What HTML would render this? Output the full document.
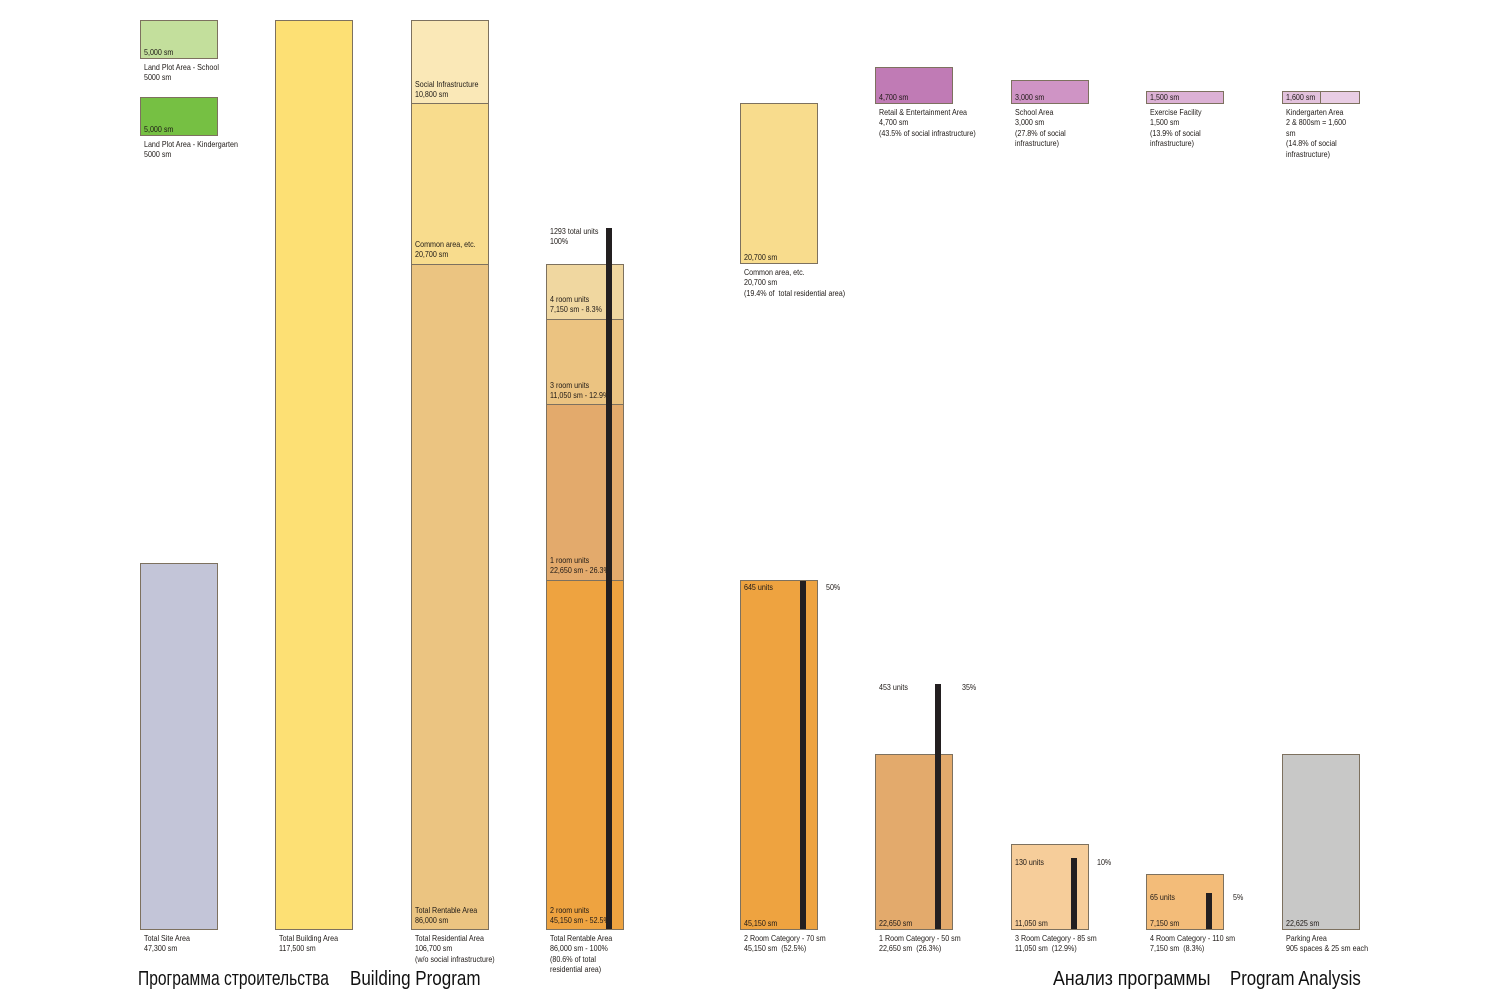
<!DOCTYPE html>
<html><head><meta charset="utf-8"><style>
html,body{margin:0;padding:0;background:#fff;}
body{width:1500px;height:1000px;position:relative;overflow:hidden;}
.b{position:absolute;box-sizing:border-box;border:1px solid #7d715f;}
.k{position:absolute;background:#231f20;}
.t{position:absolute;font-family:"Liberation Sans",sans-serif;font-size:8.6px;line-height:10.4px;transform:scaleX(.83);transform-origin:0 0;white-space:nowrap;color:#1f1a17;}
.h{position:absolute;font-family:"Liberation Sans",sans-serif;font-size:20.5px;line-height:20px;transform-origin:0 0;white-space:nowrap;color:#111;}
</style></head><body>

<!-- Column 1 -->
<div class="b" style="left:140px;top:20px;width:78px;height:39px;background:#c3df9c"></div>
<div class="t" style="left:144px;top:47px">5,000 sm</div>
<div class="t" style="left:144px;top:62px">Land Plot Area - School<br>5000 sm</div>
<div class="b" style="left:140px;top:97px;width:78px;height:39px;background:#76c043"></div>
<div class="t" style="left:144px;top:124px">5,000 sm</div>
<div class="t" style="left:144px;top:139px">Land Plot Area - Kindergarten<br>5000 sm</div>
<div class="b" style="left:140px;top:563px;width:78px;height:367px;background:#c3c5d8"></div>
<div class="t" style="left:144px;top:933px">Total Site Area<br>47,300 sm</div>

<!-- Column 2 -->
<div class="b" style="left:275px;top:20px;width:78px;height:910px;background:#fde074"></div>
<div class="t" style="left:279px;top:933px">Total Building Area<br>117,500 sm</div>

<!-- Column 3 -->
<div class="b" style="left:411px;top:20px;width:78px;height:84px;background:#fae8b7"></div>
<div class="b" style="left:411px;top:103px;width:78px;height:162px;background:#f8dc8d"></div>
<div class="b" style="left:411px;top:264px;width:78px;height:666px;background:#ebc481"></div>
<div class="t" style="left:415px;top:79px">Social Infrastructure<br>10,800 sm</div>
<div class="t" style="left:415px;top:239px">Common area, etc.<br>20,700 sm</div>
<div class="t" style="left:415px;top:905px">Total Rentable Area<br>86,000 sm</div>
<div class="t" style="left:415px;top:933px">Total Residential Area<br>106,700 sm<br>(w/o social infrastructure)</div>

<!-- Column 4 -->
<div class="b" style="left:546px;top:264px;width:78px;height:56px;background:#f0d7a0"></div>
<div class="b" style="left:546px;top:319px;width:78px;height:86px;background:#ebc381"></div>
<div class="b" style="left:546px;top:404px;width:78px;height:177px;background:#e3aa6c"></div>
<div class="b" style="left:546px;top:580px;width:78px;height:350px;background:#eea340"></div>
<div class="t" style="left:550px;top:226px">1293 total units<br>100%</div>
<div class="t" style="left:550px;top:294px">4 room units<br>7,150 sm - 8.3%</div>
<div class="t" style="left:550px;top:380px">3 room units<br>11,050 sm - 12.9%</div>
<div class="t" style="left:550px;top:555px">1 room units<br>22,650 sm - 26.3%</div>
<div class="t" style="left:550px;top:905px">2 room units<br>45,150 sm - 52.5%</div>
<div class="k" style="left:606px;top:228px;width:6px;height:701px"></div>
<div class="t" style="left:550px;top:933px">Total Rentable Area<br>86,000 sm - 100%<br>(80.6% of total<br>residential area)</div>

<!-- Column 5 -->
<div class="b" style="left:740px;top:103px;width:78px;height:161px;background:#f8dc8d"></div>
<div class="t" style="left:744px;top:252px">20,700 sm</div>
<div class="t" style="left:744px;top:267px">Common area, etc.<br>20,700 sm<br>(19.4% of &nbsp;total residential area)</div>
<div class="b" style="left:740px;top:580px;width:78px;height:350px;background:#eea340"></div>
<div class="k" style="left:800px;top:581px;width:6px;height:348px"></div>
<div class="t" style="left:744px;top:582px">645 units</div>
<div class="t" style="left:826px;top:582px">50%</div>
<div class="t" style="left:744px;top:918px">45,150 sm</div>
<div class="t" style="left:744px;top:933px">2 Room Category - 70 sm<br>45,150 sm &nbsp;(52.5%)</div>

<!-- Column 6 -->
<div class="b" style="left:875px;top:67px;width:78px;height:37px;background:#c07bb5"></div>
<div class="t" style="left:879px;top:92px">4,700 sm</div>
<div class="t" style="left:879px;top:107px">Retail &amp; Entertainment Area<br>4,700 sm<br>(43.5% of social infrastructure)</div>
<div class="b" style="left:875px;top:754px;width:78px;height:176px;background:#e3aa6c"></div>
<div class="k" style="left:935px;top:684px;width:6px;height:245px"></div>
<div class="t" style="left:879px;top:682px">453 units</div>
<div class="t" style="left:962px;top:682px">35%</div>
<div class="t" style="left:879px;top:918px">22,650 sm</div>
<div class="t" style="left:879px;top:933px">1 Room Category - 50 sm<br>22,650 sm &nbsp;(26.3%)</div>

<!-- Column 7 -->
<div class="b" style="left:1011px;top:80px;width:78px;height:24px;background:#cf94c5"></div>
<div class="t" style="left:1015px;top:92px">3,000 sm</div>
<div class="t" style="left:1015px;top:107px">School Area<br>3,000 sm<br>(27.8% of social<br>infrastructure)</div>
<div class="b" style="left:1011px;top:844px;width:78px;height:86px;background:#f6cd9a"></div>
<div class="k" style="left:1071px;top:858px;width:6px;height:71px"></div>
<div class="t" style="left:1015px;top:857px">130 units</div>
<div class="t" style="left:1097px;top:857px">10%</div>
<div class="t" style="left:1015px;top:918px">11,050 sm</div>
<div class="t" style="left:1015px;top:933px">3 Room Category - 85 sm<br>11,050 sm &nbsp;(12.9%)</div>

<!-- Column 8 -->
<div class="b" style="left:1146px;top:91px;width:78px;height:13px;background:#dcb1d5"></div>
<div class="t" style="left:1150px;top:92px">1,500 sm</div>
<div class="t" style="left:1150px;top:107px">Exercise Facility<br>1,500 sm<br>(13.9% of social<br>infrastructure)</div>
<div class="b" style="left:1146px;top:874px;width:78px;height:56px;background:#f3bc79"></div>
<div class="k" style="left:1206px;top:893px;width:6px;height:36px"></div>
<div class="t" style="left:1150px;top:892px">65 units</div>
<div class="t" style="left:1233px;top:892px">5%</div>
<div class="t" style="left:1150px;top:918px">7,150 sm</div>
<div class="t" style="left:1150px;top:933px">4 Room Category - 110 sm<br>7,150 sm &nbsp;(8.3%)</div>

<!-- Column 9 -->
<div class="b" style="left:1282px;top:91px;width:39px;height:13px;background:#e3c2dd"></div>
<div class="b" style="left:1320px;top:91px;width:40px;height:13px;background:#e9cde4"></div>
<div class="t" style="left:1286px;top:92px">1,600 sm</div>
<div class="t" style="left:1286px;top:107px">Kindergarten Area<br>2 &amp; 800sm = 1,600<br>sm<br>(14.8% of social<br>infrastructure)</div>
<div class="b" style="left:1282px;top:754px;width:78px;height:176px;background:#c8c8c7"></div>
<div class="t" style="left:1286px;top:918px">22,625 sm</div>
<div class="t" style="left:1286px;top:933px">Parking Area<br>905 spaces &amp; 25 sm each</div>

<!-- Titles -->
<div class="h" style="left:138px;top:969px;transform:scaleX(.76)">Программа строительства</div>
<div class="h" style="left:350px;top:969px;transform:scaleX(.83)">Building Program</div>
<div class="h" style="left:1053px;top:969px;transform:scaleX(.865)">Анализ программы</div>
<div class="h" style="left:1230px;top:969px;transform:scaleX(.82)">Program Analysis</div>

</body></html>
